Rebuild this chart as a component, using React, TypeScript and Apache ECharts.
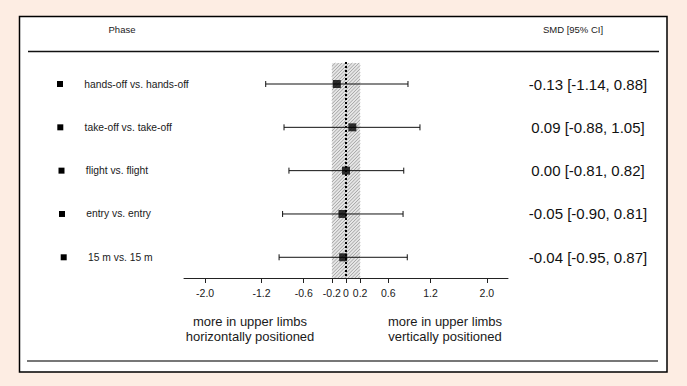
import React, { useEffect, useRef } from "react";
import * as echarts from "echarts";

const phases = [
  "hands-off vs. hands-off",
  "take-off vs. take-off",
  "flight vs. flight",
  "entry vs. entry",
  "15 m vs. 15 m",
];
const smd = [-0.13, 0.09, 0.0, -0.05, -0.04];
const ciLow = [-1.14, -0.88, -0.81, -0.9, -0.95];
const ciHigh = [0.88, 1.05, 0.82, 0.81, 0.87];
const xTicks = [-2.0, -1.2, -0.6, -0.2, 0, 0.2, 0.6, 1.2, 2.0];
const bandBounds = [-0.2, 0.2];
const leftNote = "more in upper limbs\nhorizontally positioned";
const rightNote = "more in upper limbs\nvertically positioned";

const FONT = 'Arial, "Liberation Sans", sans-serif';
const Y_MIN = -0.508;
const Y_MAX = 4.478;
const rowIdx = phases.map((_, i) => i);
const labelOffsets = [0, 0.3, 1.5, 2, 3.7];

const fmt = (v: number) => v.toFixed(2);

export default function App() {
  const ref = useRef<HTMLDivElement>(null);
  useEffect(() => {
    const chart = echarts.init(ref.current!, undefined, { renderer: "svg" });
    const rich: any = {
      sq: { width: 6, height: 6, backgroundColor: "#000" },
      t: { fontSize: 10.3, color: "#1a1a1a", fontFamily: FONT, padding: [0, 0, 0, 21.3] },
    };
    labelOffsets.forEach((w, i) => {
      rich["o" + i] = { width: w, height: 1 };
    });
    const option: any = {
      animation: false,
      backgroundColor: "#FDEDE3",
      grid: { left: 184, right: 179, top: 62, bottom: 108, containLabel: false },
      xAxis: {
        type: "value",
        min: -2.3,
        max: 2.3,
        axisLine: { show: true, onZero: false, lineStyle: { color: "#222", width: 1 } },
        axisTick: { show: true, customValues: xTicks, length: 5, lineStyle: { color: "#222" } },
        axisLabel: {
          customValues: xTicks,
          formatter: (v: number) => (v === 0 ? "0" : v.toFixed(1)),
          fontSize: 10.5,
          fontFamily: FONT,
          color: "#1a1a1a",
          margin: 9,
        },
        splitLine: { show: false },
      },
      yAxis: [
        {
          type: "value",
          inverse: true,
          min: Y_MIN,
          max: Y_MAX,
          axisLine: { show: false },
          axisTick: { show: false },
          splitLine: { show: false },
          axisLabel: {
            customValues: rowIdx,
            align: "left",
            margin: 127,
            formatter: (v: number) => {
              const i = Math.round(v);
              return `{o${i}|}{sq|}{t|${phases[i]}}`;
            },
            rich,
          },
        },
        {
          type: "value",
          position: "right",
          inverse: true,
          min: Y_MIN,
          max: Y_MAX,
          axisLine: { show: false },
          axisTick: { show: false },
          splitLine: { show: false },
          axisLabel: {
            customValues: rowIdx,
            align: "center",
            margin: 80,
            fontSize: 15,
            fontFamily: FONT,
            color: "#111",
            formatter: (v: number) => {
              const i = Math.round(v);
              return `${fmt(smd[i])} [${fmt(ciLow[i])}, ${fmt(ciHigh[i])}]`;
            },
          },
        },
      ],
      series: [
        {
          type: "custom",
          z: 1,
          silent: true,
          data: [[bandBounds[0], bandBounds[1]]],
          encode: { x: [0, 1] },
          renderItem: (params: any, api: any) => {
            const a = api.coord([api.value(0), Y_MIN]);
            const b = api.coord([api.value(1), Y_MAX]);
            const x0 = Math.min(a[0], b[0]);
            const x1 = Math.max(a[0], b[0]);
            const y0 = Math.min(a[1], b[1]) + 1;
            const y1 = Math.max(a[1], b[1]);
            const children: any[] = [
              { type: "rect", shape: { x: x0, y: y0, width: x1 - x0, height: y1 - y0 }, style: { fill: "#e6e6e6" } },
            ];
            const step = 3.4;
            for (let k = x0 + y0; k <= x1 + y1; k += step) {
              const xa = Math.max(x0, k - y1);
              const xb = Math.min(x1, k - y0);
              if (xa < xb) {
                children.push({
                  type: "line",
                  shape: { x1: xa, y1: k - xa, x2: xb, y2: k - xb },
                  style: { stroke: "#a4a4a4", lineWidth: 1 },
                });
              }
            }
            return { type: "group", children };
          },
        },
        {
          type: "custom",
          z: 3,
          silent: true,
          data: rowIdx.map((i) => [i, ciLow[i], ciHigh[i]]),
          encode: { x: [1, 2], y: 0 },
          renderItem: (params: any, api: any) => {
            const idx = api.value(0);
            const a = api.coord([api.value(1), idx]);
            const b = api.coord([api.value(2), idx]);
            const st = { stroke: "#111", lineWidth: 1 };
            return {
              type: "group",
              children: [
                { type: "line", shape: { x1: a[0], y1: a[1], x2: b[0], y2: b[1] }, style: st },
                { type: "line", shape: { x1: a[0], y1: a[1] - 3, x2: a[0], y2: a[1] + 3 }, style: st },
                { type: "line", shape: { x1: b[0], y1: b[1] - 3, x2: b[0], y2: b[1] + 3 }, style: st },
              ],
            };
          },
        },
        {
          type: "scatter",
          z: 4,
          symbol: "rect",
          symbolSize: 8,
          itemStyle: { color: "#000" },
          data: rowIdx.map((i) => [smd[i], i]),
          markLine: {
            silent: true,
            symbol: "none",
            label: { show: false },
            lineStyle: { color: "#000", type: [2, 2], width: 2 },
            data: [{ xAxis: 0 }],
            z: 2,
          },
        },
      ],
      graphic: [
        {
          type: "rect",
          z: -10,
          shape: { x: 19.5, y: 16.5, width: 647.5, height: 355.5 },
          style: { fill: "#fff", stroke: "#000", lineWidth: 1.5 },
        },
        {
          type: "line",
          shape: { x1: 28, y1: 51.5, x2: 659, y2: 51.5 },
          style: { stroke: "#111", lineWidth: 1.5 },
        },
        {
          type: "line",
          shape: { x1: 27, y1: 361, x2: 658, y2: 361 },
          style: { stroke: "#777", lineWidth: 2 },
        },
        {
          type: "text",
          x: 122,
          y: 29,
          style: { text: "Phase", fontSize: 9.5, fontFamily: FONT, fill: "#1a1a1a", align: "center", verticalAlign: "middle" },
        },
        {
          type: "text",
          x: 573,
          y: 29,
          style: { text: "SMD [95% CI]", fontSize: 9.5, fontFamily: FONT, fill: "#1a1a1a", align: "center", verticalAlign: "middle" },
        },
        {
          type: "text",
          x: 250,
          y: 328.5,
          style: { text: leftNote, fontSize: 13, lineHeight: 15, fontFamily: FONT, fill: "#1a1a1a", align: "center", verticalAlign: "middle" },
        },
        {
          type: "text",
          x: 445,
          y: 328.5,
          style: { text: rightNote, fontSize: 13, lineHeight: 15, fontFamily: FONT, fill: "#1a1a1a", align: "center", verticalAlign: "middle" },
        },
      ],
    };
    chart.setOption(option);
    return () => chart.dispose();
  }, []);
  return (
    <div
      ref={ref}
      style={{ position: "fixed", left: 0, top: 0, width: 687, height: 386 }}
    />
  );
}
